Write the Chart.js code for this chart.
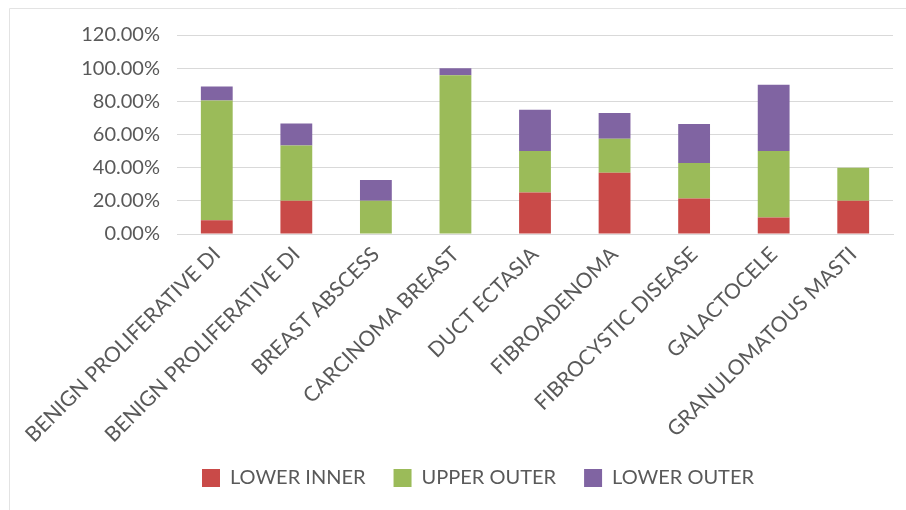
<!DOCTYPE html>
<html>
<head>
<meta charset="utf-8">
<script src="https://cdn.jsdelivr.net/npm/chart.js@4.4.0/dist/chart.umd.min.js"></script>
<style>
  html, body { margin: 0; padding: 0; background: #fff; }
  #wrap { width: 906px; height: 510px; position: relative; }
</style>
</head>
<body>
<div id="wrap"><canvas id="locationChart"></canvas></div>
<script>
// Categories (Excel truncates the long ones)
const categories = [
  'BENIGN PROLIFERATIVE DI',
  'BENIGN PROLIFERATIVE DI',
  'BREAST ABSCESS',
  'CARCINOMA BREAST',
  'DUCT ECTASIA',
  'FIBROADENOMA',
  'FIBROCYSTIC DISEASE',
  'GALACTOCELE',
  'GRANULOMATOUS MASTI'
];

// series values in %
const lowerInner = [8.33, 20, 0, 0, 25, 37, 21.4, 10, 20];
const upperOuter = [72.22, 33.33, 20, 95.8, 25, 20.5, 21.4, 40, 20];
const lowerOuter = [8.33, 13.33, 12.5, 4.2, 25, 15.5, 23.5, 40, 0];

const yTicks = [0, 20, 40, 60, 80, 100, 120];

const grey = '#595959';

// light frame like the excel chart area (top + left only visible)
const framePlugin = {
  id: 'frame',
  beforeDraw(chart) {
    const c = chart.ctx;
    c.save();
    c.fillStyle = '#fff';
    c.fillRect(0, 0, chart.width, chart.height);
    c.strokeStyle = '#e3e3e3';
    c.lineWidth = 1;
    c.beginPath();
    c.moveTo(9.5, chart.height);
    c.lineTo(9.5, 8.5);
    c.lineTo(chart.width, 8.5);
    c.stroke();
    c.restore();
  }
};

// legend sits closer to the rotated labels than its padding allows
const legendNudge = {
  id: 'legendNudge',
  afterLayout(chart) {
    chart.legend.top -= 12;
    chart.legend.bottom -= 12;
  }
};

const ctx = document.getElementById('locationChart').getContext('2d');
const locationChart = new Chart(ctx, {
  type: 'bar',
  data: {
    labels: categories,
    datasets: [
      { label: 'LOWER INNER', data: lowerInner, backgroundColor: '#C94A48' },
      { label: 'UPPER OUTER', data: upperOuter, backgroundColor: '#9BBB59' },
      { label: 'LOWER OUTER', data: lowerOuter, backgroundColor: '#8064A2' }
    ]
  },
  options: {
    responsive: true,
    maintainAspectRatio: false,
    animation: false,
    layout: { padding: { left: 63, right: 13, top: 35, bottom: 0 } },
    datasets: { bar: { categoryPercentage: 1, barPercentage: 0.4 } },
    plugins: {
      legend: {
        position: 'bottom',
        labels: {
          color: grey,
          font: { family: 'Lato', size: 20 },
          boxWidth: 18,
          boxHeight: 18,
          padding: 28
        }
      },
      tooltip: { enabled: false }
    },
    scales: {
      x: {
        stacked: true,
        grid: { display: false, drawTicks: false },
        border: { display: true, color: '#d9d9d9', width: 1 },
        ticks: {
          color: grey,
          font: { family: 'Lato', size: 21 },
          minRotation: 45,
          maxRotation: 45,
          autoSkip: false,
          padding: 8
        },
        afterFit(scale) { scale.height = 218; }
      },
      y: {
        stacked: true,
        min: 0,
        max: 120,
        afterBuildTicks(scale) {
          scale.ticks = yTicks.map(v => ({ value: v }));
        },
        grid: { color: '#d9d9d9', drawTicks: false },
        border: { display: false },
        ticks: {
          color: grey,
          font: { family: 'Lato', size: 20 },
          padding: 17,
          callback: v => v.toFixed(2) + '%'
        },
        afterFit(scale) { scale.width = 114; }
      }
    }
  },
  plugins: [framePlugin, legendNudge]
});
</script>
</body>
</html>
